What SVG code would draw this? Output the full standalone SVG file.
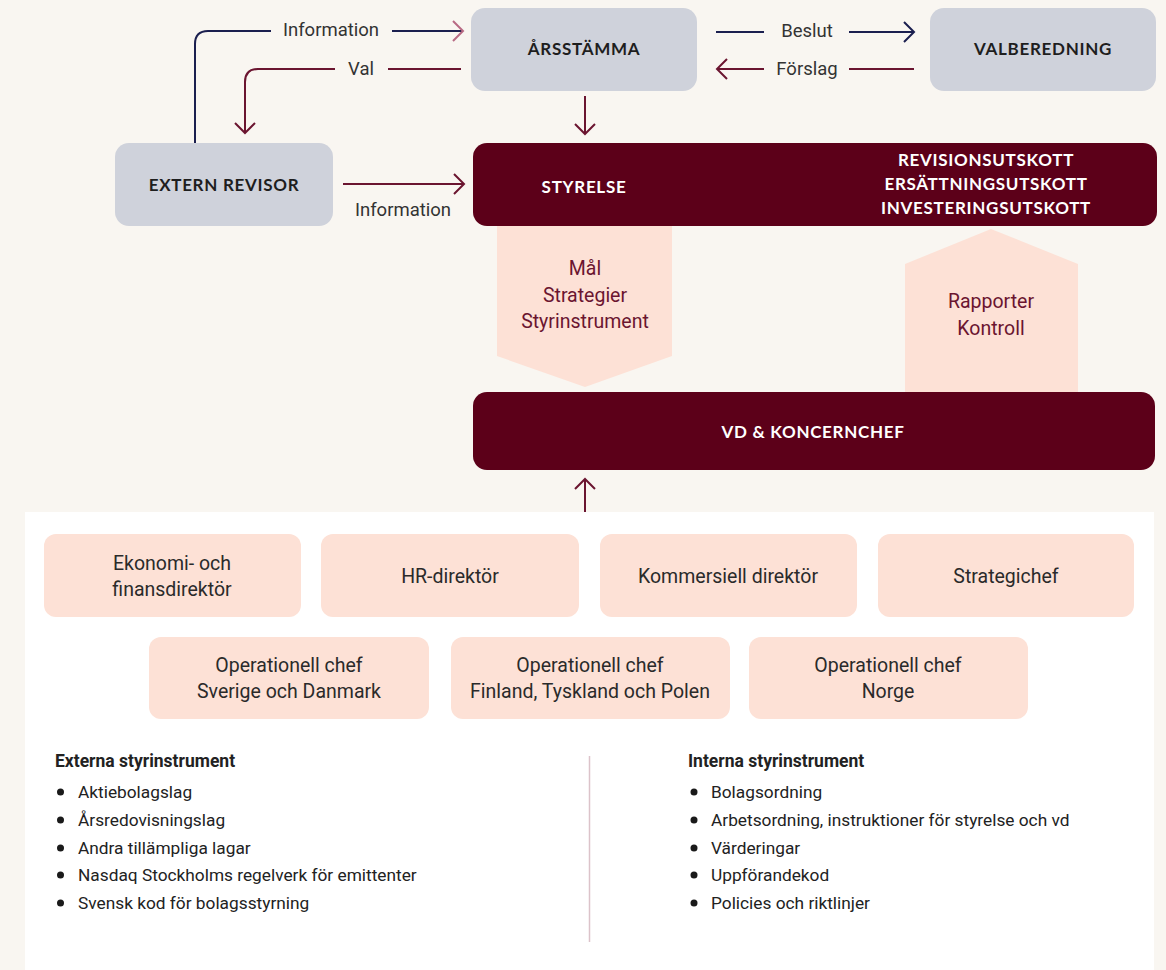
<svg xmlns="http://www.w3.org/2000/svg" width="1166" height="970" viewBox="0 0 1166 970">
<defs>
<style>
.bg{fill:#f9f6f1}
.grey{fill:#cfd2db}
.dark{fill:#5c0019}
.pink{fill:#fde1d6}
.cap{font-family:Lato,"Liberation Sans",sans-serif;font-weight:700;font-size:17px;letter-spacing:0.7px;text-anchor:middle}
.capd{fill:#1e1e1e}
.capw{fill:#ffffff}
.lbl{font-family:Roboto,"Liberation Sans",sans-serif;font-size:18.5px;fill:#333;text-anchor:middle}
.pent{font-family:Roboto,"Liberation Sans",sans-serif;font-size:19.5px;fill:#6b1530;text-anchor:middle}
.box{font-family:Roboto,"Liberation Sans",sans-serif;font-size:19.5px;fill:#2a2a2a;text-anchor:middle}
.lh{font-family:Roboto,"Liberation Sans",sans-serif;font-size:17.5px;font-weight:700;fill:#222}
.li{font-family:Roboto,"Liberation Sans",sans-serif;font-size:17.3px;fill:#222}
.navy{stroke:#1b1f4f;stroke-width:2;fill:none}
.mar{stroke:#6b1530;stroke-width:2;fill:none}
</style>
<marker id="hNavy" markerUnits="userSpaceOnUse" markerWidth="14" markerHeight="24" refX="11" refY="11" orient="auto" overflow="visible"><path d="M1,1 L11,11 L1,21" fill="none" stroke="#1b1f4f" stroke-width="2"/></marker>
<marker id="hMar" markerUnits="userSpaceOnUse" markerWidth="14" markerHeight="24" refX="11" refY="11" orient="auto" overflow="visible"><path d="M1,1 L11,11 L1,21" fill="none" stroke="#6b1530" stroke-width="2"/></marker>
<marker id="hPink" markerUnits="userSpaceOnUse" markerWidth="14" markerHeight="24" refX="11" refY="11" orient="auto" overflow="visible"><path d="M1,1 L11,11 L1,21" fill="none" stroke="#b86a84" stroke-width="2"/></marker>
</defs>
<rect class="bg" x="0" y="0" width="1166" height="970"/>
<rect x="25" y="512" width="1129" height="458" fill="#ffffff"/>

<g id="flow-shapes">
<polygon class="pink" points="497,226 672,226 672,356 585,387 497,356"/>
<polygon class="pink" points="905,392 905,264 991,229 1078,264 1078,392"/>
<text class="pent" x="585" y="275">Mål</text>
<text class="pent" x="585" y="302">Strategier</text>
<text class="pent" x="585" y="328">Styrinstrument</text>
<text class="pent" x="991" y="308">Rapporter</text>
<text class="pent" x="991" y="335">Kontroll</text>
</g>

<g id="connectors">
<path class="navy" d="M195,143 V44 Q195,31 208,31 H271"/>
<path class="navy" d="M392,31 H463" marker-end="url(#hPink)"/>
<text class="lbl" x="331" y="36">Information</text>
<path class="mar" d="M461,69 H388"/>
<path class="mar" d="M335,69 H258 Q245,69 245,82 V133" marker-end="url(#hMar)"/>
<text class="lbl" x="361" y="75">Val</text>
<path class="mar" d="M343,184 H464" marker-end="url(#hMar)"/>
<text class="lbl" x="403" y="216">Information</text>
<path class="navy" d="M716,32 H764"/>
<path class="navy" d="M849,32 H914" marker-end="url(#hNavy)"/>
<text class="lbl" x="807" y="37">Beslut</text>
<path class="mar" d="M764,69 H717" marker-end="url(#hMar)"/>
<path class="mar" d="M914,69 H849"/>
<text class="lbl" x="807" y="75">Förslag</text>
<path class="mar" d="M585,96 V134" marker-end="url(#hMar)"/>
<path class="mar" d="M585,512 V479" marker-end="url(#hMar)"/>
</g>

<g id="arsstamma">
<rect class="grey" x="471" y="8" width="226" height="83" rx="14"/>
<text class="cap capd" x="584" y="55">ÅRSSTÄMMA</text>
</g>
<g id="valberedning">
<rect class="grey" x="930" y="8" width="226" height="83" rx="14"/>
<text class="cap capd" x="1043" y="55">VALBEREDNING</text>
</g>
<g id="extern-revisor">
<rect class="grey" x="115" y="143" width="218" height="83" rx="14"/>
<text class="cap capd" x="224" y="191">EXTERN REVISOR</text>
</g>
<g id="styrelse">
<rect class="dark" x="473" y="143" width="684" height="83" rx="14"/>
<text class="cap capw" x="584" y="193">STYRELSE</text>
<text class="cap capw" x="986" y="166">REVISIONSUTSKOTT</text>
<text class="cap capw" x="986" y="190">ERSÄTTNINGSUTSKOTT</text>
<text class="cap capw" x="986" y="214">INVESTERINGSUTSKOTT</text>
</g>
<g id="vd">
<rect class="dark" x="473" y="392" width="682" height="78" rx="14"/>
<text class="cap capw" x="813" y="438">VD &amp; KONCERNCHEF</text>
</g>

<g id="ekonomi">
<rect class="pink" x="44" y="534" width="257" height="83" rx="12"/>
<text class="box" x="172" y="570">Ekonomi- och</text>
<text class="box" x="172" y="596">finansdirektör</text>
</g>
<g id="hr">
<rect class="pink" x="321" y="534" width="258" height="83" rx="12"/>
<text class="box" x="450" y="583">HR-direktör</text>
</g>
<g id="kommersiell">
<rect class="pink" x="600" y="534" width="257" height="83" rx="12"/>
<text class="box" x="728" y="583">Kommersiell direktör</text>
</g>
<g id="strategichef">
<rect class="pink" x="878" y="534" width="256" height="83" rx="12"/>
<text class="box" x="1006" y="583">Strategichef</text>
</g>
<g id="op-se-dk">
<rect class="pink" x="149" y="637" width="280" height="82" rx="12"/>
<text class="box" x="289" y="672">Operationell chef</text>
<text class="box" x="289" y="698">Sverige och Danmark</text>
</g>
<g id="op-fi-de-pl">
<rect class="pink" x="451" y="637" width="279" height="82" rx="12"/>
<text class="box" x="590" y="672">Operationell chef</text>
<text class="box" x="590" y="698">Finland, Tyskland och Polen</text>
</g>
<g id="op-no">
<rect class="pink" x="749" y="637" width="279" height="82" rx="12"/>
<text class="box" x="888" y="672">Operationell chef</text>
<text class="box" x="888" y="698">Norge</text>
</g>

<line x1="589.5" y1="756" x2="589.5" y2="942" stroke="#dcc3ca" stroke-width="1.5"/>

<g id="externa">
<text class="lh" x="55" y="767">Externa styrinstrument</text>
<g fill="#1a1a1a"><circle cx="60.5" cy="792" r="3.5"/><circle cx="60.5" cy="820" r="3.5"/><circle cx="60.5" cy="848" r="3.5"/><circle cx="60.5" cy="875" r="3.5"/><circle cx="60.5" cy="903" r="3.5"/></g>
<text class="li" x="78" y="798">Aktiebolagslag</text>
<text class="li" x="78" y="826">Årsredovisningslag</text>
<text class="li" x="78" y="854">Andra tillämpliga lagar</text>
<text class="li" x="78" y="881">Nasdaq Stockholms regelverk för emittenter</text>
<text class="li" x="78" y="909">Svensk kod för bolagsstyrning</text>
</g>
<g id="interna">
<text class="lh" x="688" y="767">Interna styrinstrument</text>
<g fill="#1a1a1a"><circle cx="694" cy="792" r="3.5"/><circle cx="694" cy="820" r="3.5"/><circle cx="694" cy="848" r="3.5"/><circle cx="694" cy="875" r="3.5"/><circle cx="694" cy="903" r="3.5"/></g>
<text class="li" x="711" y="798">Bolagsordning</text>
<text class="li" x="711" y="826">Arbetsordning, instruktioner för styrelse och vd</text>
<text class="li" x="711" y="854">Värderingar</text>
<text class="li" x="711" y="881">Uppförandekod</text>
<text class="li" x="711" y="909">Policies och riktlinjer</text>
</g>
</svg>
